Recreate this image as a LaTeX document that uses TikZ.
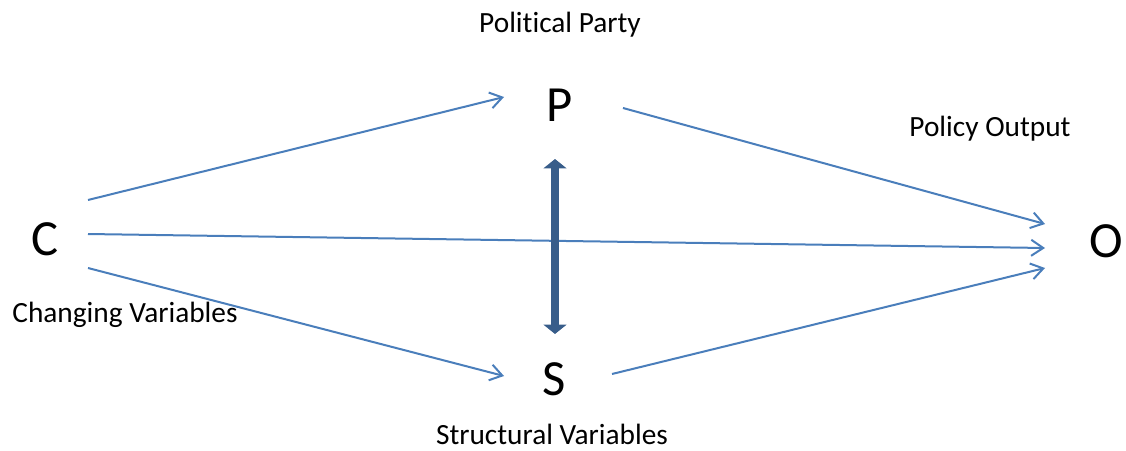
\documentclass[tikz,border=0pt]{standalone}
\usepackage{fontspec}
\setmainfont[Ligatures={NoCommon}]{Carlito}
\usetikzlibrary{arrows.meta}
\definecolor{lineblue}{HTML}{4A7EBB}
\definecolor{darkblue}{HTML}{385D8A}
\tikzset{
  big/.style={font=\fontsize{38pt}{42pt}\selectfont, inner sep=0pt},
  lbl/.style={font=\fontsize{22pt}{26pt}\selectfont, inner sep=0pt},
  conn/.style={draw=lineblue, line width=1.5pt, -{Straight Barb[length=9pt,width=12pt,line width=1.5pt]}},
  thick2/.style={draw=darkblue, line width=6.5pt, {Triangle[length=7pt,width=17pt]}-{Triangle[length=7pt,width=17pt]}}
}
\begin{document}
\begin{tikzpicture}[x=0.75pt,y=-0.75pt]
\useasboundingbox (0,0) rectangle (1126,450);
\node[big] (C) at (45,239) {C};
\node[big] (P) at (560,105) {P};
\node[big] (S) at (554,379) {S};
\node[big] (O) at (1106,241) {O};
\node[lbl] (lp) at (560,25) {Political Party};
\node[lbl] (lo) at (990,129) {Policy Output};
\node[lbl] (lc) at (125,315) {Changing Variables};
\node[lbl] (ls) at (552,434) {Structural Variables};
\coordinate (c1) at (88,200);
\coordinate (c2) at (88,234);
\coordinate (c3) at (88,268);
\coordinate (p1) at (504,97);
\coordinate (p2) at (623,108);
\coordinate (s1) at (504,376);
\coordinate (s2) at (612,374);
\coordinate (o1) at (1045,224);
\coordinate (o2) at (1045,248);
\coordinate (o3) at (1045,268);
\coordinate (t1) at (555,159);
\coordinate (t2) at (555,334);
\draw[conn] (c1) -- (p1);
\draw[conn] (c2) -- (o2);
\draw[conn] (c3) -- (s1);
\draw[conn] (p2) -- (o1);
\draw[conn] (s2) -- (o3);
\draw[thick2] (t1) -- (t2);
\end{tikzpicture}
\end{document}
